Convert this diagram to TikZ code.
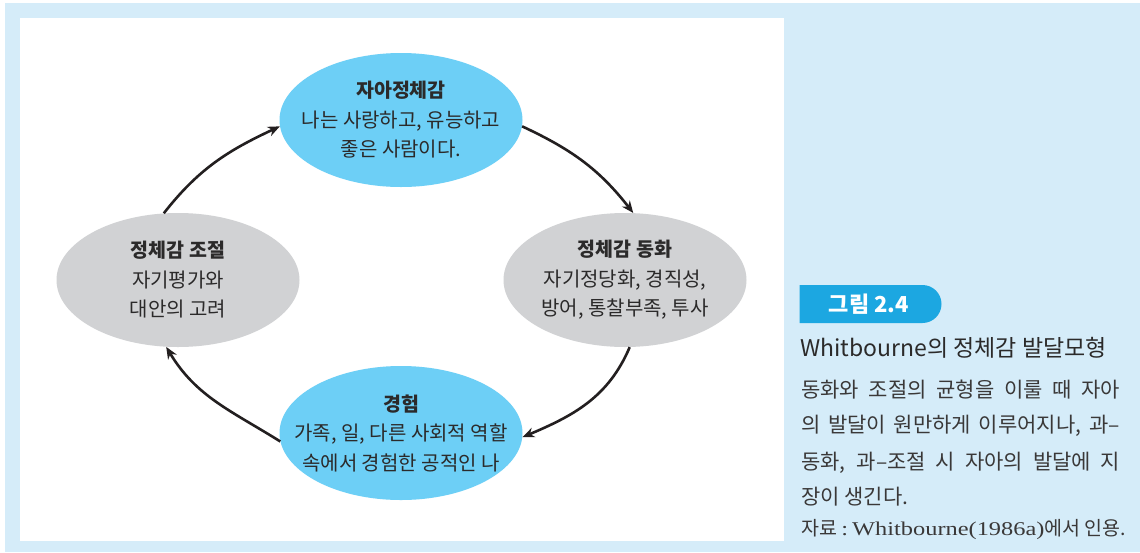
\documentclass[tikz,border=0pt]{standalone}
\usepackage{fontspec}
\setmainfont{Noto Sans CJK KR}
\newfontfamily\lserif[FakeStretch=1.25]{Liberation Serif}
\usetikzlibrary{shapes.geometric,shapes.misc,arrows.meta}
\definecolor{bgblue}{HTML}{D5ECF9}
\definecolor{ellblue}{HTML}{6DCFF6}
\definecolor{ellgray}{HTML}{D1D2D4}
\definecolor{tabblue}{HTML}{1CA7E1}
\definecolor{txt}{HTML}{2B2A2A}
\definecolor{bodytxt}{HTML}{3A3838}
\definecolor{arrcol}{HTML}{231F20}
\begin{document}
\begin{tikzpicture}[x=1pt,y=-1pt,
  ell/.style={ellipse, minimum width=243pt, minimum height=134pt, inner sep=0pt},
  blueell/.style={ell, fill=ellblue},
  grayell/.style={ell, fill=ellgray},
  elltext/.style={align=center, inner sep=0pt, text=txt, font=\fontsize{20}{29.5}\selectfont},
  arr/.style={-{Stealth[length=12pt,width=10pt]}, line width=2.6pt, draw=arrcol},
  bodyline/.style={anchor=base west, inner sep=0pt, text=bodytxt, font=\fontsize{21}{24}\selectfont},
]
\useasboundingbox (0,0) rectangle (1140,552);
\fill[bgblue] (5,3) rectangle (1140,552);
\fill[white] (20,18) rectangle (784,541);

\node[blueell] (a) at (401,120) {};
\node[grayell] (b) at (625,280) {};
\node[blueell] (c) at (401,433) {};
\node[grayell] (d) at (178,280) {};
\node[elltext] (at) at (a) {{\bfseries\fontsize{19.5}{29.5}\selectfont 자아정체감}\\나는 사랑하고, 유능하고\\좋은 사람이다.};
\node[elltext] (bt) at (b) {{\bfseries\fontsize{19.5}{29.5}\selectfont 정체감 동화}\\자기정당화, 경직성,\\방어, 통찰부족, 투사};
\node[elltext] (ct) at (c) {{\bfseries\fontsize{19.5}{29.5}\selectfont 경험}\\가족, 일, 다른 사회적 역할\\속에서 경험한 공적인 나};
\node[elltext] (dt) at (d) {{\bfseries\fontsize{19.5}{29.5}\selectfont 정체감 조절}\\자기평가와\\대안의 고려};

\draw[arr] (d.102) to[out=52,in=205] (a.183);
\draw[arr] (a.-3) to[out=-25,in=128] (b.83);
\draw[arr] (b.-86) to[out=-113,in=23] (c.-2);
\draw[arr] (c.184) to[out=148,in=-59] (d.-100);

\node[rounded rectangle, rounded rectangle left arc=none, fill=tabblue, minimum width=142pt,
  minimum height=38pt, inner sep=0pt, text=white, font=\bfseries\fontsize{22}{24}\selectfont]
  (tab) at (869,304) {그림 2.4};
\node[anchor=base west, inner sep=0pt, text=txt, font=\fontsize{23}{26}\selectfont]
  (title) at (800,356) {Whitbourne의 정체감 발달모형};
\node[bodyline] (l1) at (801,397) {\makebox[319pt][s]{동화와 조절의 균형을 이룰 때 자아}};
\node[bodyline] (l2) at (801,432) {\makebox[319pt][s]{의 발달이 원만하게 이루어지나, 과–}};
\node[bodyline] (l3) at (801,469) {\makebox[319pt][s]{동화, 과–조절 시 자아의 발달에 지}};
\node[bodyline] (l4) at (801,504) {장이 생긴다.};
\node[bodyline, font=\fontsize{19.5}{24}\selectfont] (src) at (801,535) {자료 {\lserif:\hspace{4pt}Whitbourne(1986a)}에서\hspace{4pt}인용.};
\end{tikzpicture}
\end{document}
